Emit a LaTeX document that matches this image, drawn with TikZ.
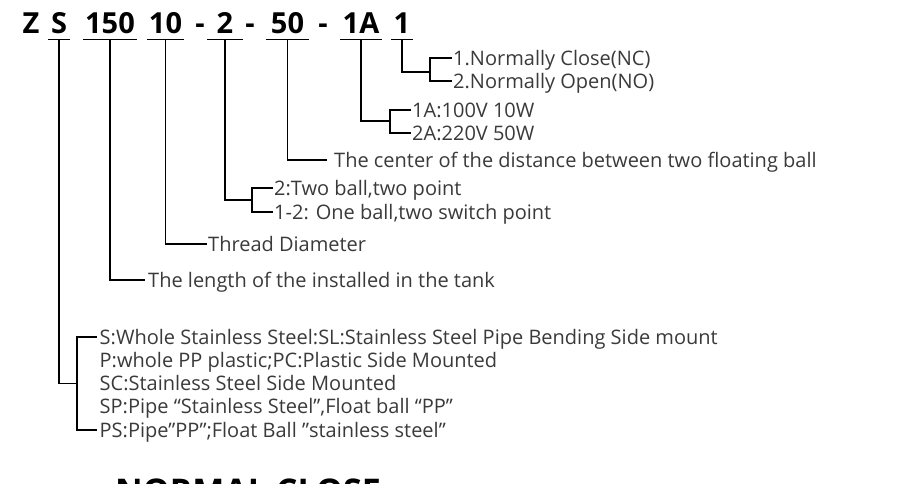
\documentclass[tikz,border=0pt]{standalone}
\usepackage{fontspec}
\setmainfont{Open Sans}
\usetikzlibrary{positioning}
\definecolor{labelgray}{HTML}{3A3A3A}

\begin{document}
\begin{tikzpicture}[x=1pt,y=-1pt,
  codepart/.style={font=\fontsize{29}{29}\selectfont\bfseries, anchor=base,
    inner xsep=0pt, inner ysep=6pt, text depth=0pt, minimum width=#1},
  lbl/.style={font=\fontsize{20}{20}\selectfont, text=labelgray, anchor=west,
    inner sep=1pt, text height=14.3pt, text depth=0pt},
  wire/.style={black, line width=1.2pt}]

  % ---- page frame: 920 x 483 ----
  \useasboundingbox (0,0) rectangle (920,483);
  \clip (0,0) rectangle (920,483);

  % ---- (1) model code ----
  \node[codepart=15pt] (cZ)   at (31,33)    {Z};
  \node[codepart=22pt] (cS)   at (59,33)    {S};
  \node[codepart=54pt] (c150) at (110,33)   {150};
  \node[codepart=37pt] (c10)  at (165.5,33) {10};
  \node[codepart=8pt]  (d1)   at (200,33)   {-};
  \node[codepart=36pt] (c2)   at (225,33)   {2};
  \node[codepart=8pt]  (d2)   at (250,33)   {-};
  \node[codepart=43pt] (c50)  at (287.5,33) {50};
  \node[codepart=8pt]  (d3)   at (323,33)   {-};
  \node[codepart=41pt] (c1A)  at (361,33)   {1A};
  \node[codepart=22pt] (c1)   at (402,33)   {1};

  % underlines below each part
  \foreach \p in {cS,c150,c10,c2,c50,c1A,c1}
    \draw[wire] (\p.south west) -- (\p.south east);

  % ---- (2) contact type ----
  \node[lbl] (nc) at (452,58) {1.Normally Close(NC)};
  \node[lbl] (no) at (452,81) {2.Normally Open(NO)};
  \coordinate (b1) at (430,72);
  \draw[wire] (c1.south) |- (b1);
  \draw[wire] (nc.west) -| (b1) |- (no.west);

  % ---- (3) power rating ----
  \node[lbl] (p1) at (411,110) {1A:100V 10W};
  \node[lbl] (p2) at (411,133) {2A:220V 50W};
  \coordinate (b1A) at (390,121);
  \draw[wire] (c1A.south) |- (b1A);
  \draw[wire] (p1.west) -| (b1A) |- (p2.west);

  % ---- (4) ball distance ----
  \node[lbl, inner xsep=7pt] (dist) at (327,160)
    {The center of the distance between two floating ball};
  \draw[wire] (c50.south) |- (dist.west);

  % ---- (5) ball / switch points ----
  \node[lbl] (pt1) at (273,188) {2:Two ball,two point};
  \node[lbl] (pt2) at (273,212) {1-2: One ball,two switch point};
  \coordinate (b2) at (252,200);
  \draw[wire] (c2.south) |- (b2);
  \draw[wire] (pt1.west) -| (b2) |- (pt2.west);

  % ---- (6) thread and length ----
  \node[lbl] (thread) at (207,244) {Thread Diameter};
  \draw[wire] (c10.south) |- (thread.west);
  \node[lbl, inner xsep=3pt] (len) at (145,280)
    {The length of the installed in the tank};
  \draw[wire] (c150.south) |- (len.west);

  % ---- (7) material ----
  \node[lbl, inner xsep=2.5pt] (m1) at (97,337)
    {S:Whole Stainless Steel:SL:Stainless Steel Pipe Bending Side mount};
  \node[lbl, inner xsep=2.5pt] (m2) at (97,360.25)
    {P:whole PP plastic;PC:Plastic Side Mounted};
  \node[lbl, inner xsep=2.5pt] (m3) at (97,383.5)
    {SC:Stainless Steel Side Mounted};
  \node[lbl, inner xsep=2.5pt] (m4) at (97,406.75)
    {SP:Pipe “Stainless Steel”,Float ball “PP”};
  \node[lbl, inner xsep=2.5pt] (m5) at (97,430)
    {PS:Pipe”PP”;Float Ball ”stainless steel”};
  \coordinate (bS) at (77,383.5);
  \draw[wire] (cS.south) |- (bS);
  \draw[wire] (m1.west) -| (bS) |- (m5.west);

  % ---- (8) next heading, cut by the frame ----
  \node[font=\fontsize{34}{34}\selectfont\bfseries, anchor=base west,
    inner sep=0pt] (head) at (115,503) {NORMAL CLOSE};

\end{tikzpicture}
\end{document}
